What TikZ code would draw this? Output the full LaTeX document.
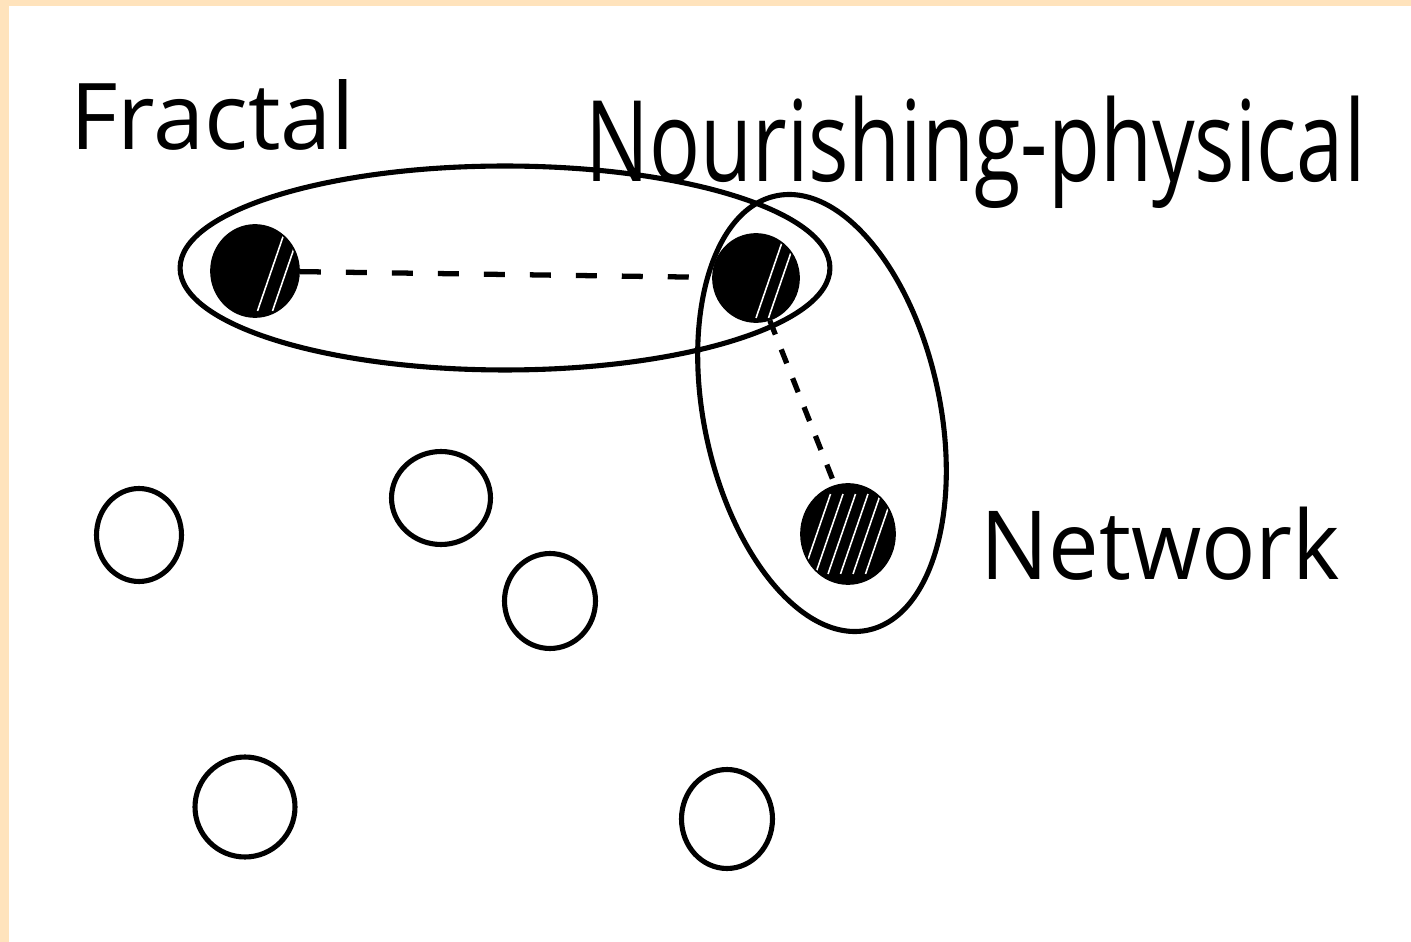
\documentclass[tikz,border=0pt]{standalone}
\usepackage{fontspec}
\setmainfont{Open Sans}
\usetikzlibrary{shapes.geometric}
\definecolor{peach}{RGB}{255,227,188}
\begin{document}
\begin{tikzpicture}[x=0.02cm,y=-0.02cm,
  group/.style={ellipse, draw=black, line width=2.9pt, inner sep=0pt},
  ring/.style={ellipse, draw=black, line width=2.9pt, inner sep=0pt},
  dot/.style={ellipse, fill=black, draw=black, line width=1pt, inner sep=0pt},
  hatch/.style={path picture={\foreach \s in {#1}{\draw[white,line width=0.9pt]
      ([xshift=\s cm, yshift=-0.8cm]path picture bounding box.center) -- ++(0.55cm,1.6cm);}}},
  hdash/.style={line width=3pt, dash pattern=on 0.42cm off 0.5cm},
  vdash/.style={line width=3pt, dash pattern=on 0.3cm off 0.32cm},
  lbl/.style={anchor=base west, inner sep=0pt}
]
\useasboundingbox (0,0) rectangle (1411,942);
\fill[white] (0,0) rectangle (1411,942);
\fill[peach] (0,0) rectangle (9,942);
\fill[peach] (0,0) rectangle (1411,6);

% group outlines
\node[group, minimum width=13cm, minimum height=4.08cm] (g1) at (505,268) {};
\node[group, minimum width=4.72cm, minimum height=8.88cm, rotate=12] (g2) at (822,413) {};

% filled dots
\node[dot, hatch={0.05,0.35}, minimum width=1.76cm, minimum height=1.84cm] (fr) at (255,271) {};
\node[dot, hatch={0.0,0.25}, minimum width=1.72cm, minimum height=1.76cm] (no) at (756,278) {};
\node[dot, hatch={-0.9,-0.65,-0.4,-0.15,0.1,0.35}, minimum width=1.88cm, minimum height=2.0cm] (nw) at (848,534) {};

% open circles
\node[ring, minimum width=1.7cm, minimum height=1.86cm] (c1) at (139,535) {};
\node[ring, minimum width=1.98cm, minimum height=1.86cm] (c2) at (441,498) {};
\node[ring, minimum width=1.82cm, minimum height=1.9cm] (c3) at (550,601) {};
\node[ring, minimum width=2.0cm, minimum height=2.0cm] (c4) at (245,807) {};
\node[ring, minimum width=1.82cm, minimum height=1.98cm] (c5) at (727,819) {};

% connectors
\draw[hdash] (fr) -- (no);
\draw[vdash] (no.-72) -- (nw.105);

% labels
\node[lbl] (tf) at (70,150) {\resizebox{5.7cm}{1.4cm}{Fractal}};
\node[lbl] (tn) at (585,182) {\resizebox*{15.6cm}{2.25cm}{Nourishing-physical}};
\node[lbl] (tw) at (980,580) {\resizebox{7.2cm}{1.45cm}{Network}};
\end{tikzpicture}
\end{document}
